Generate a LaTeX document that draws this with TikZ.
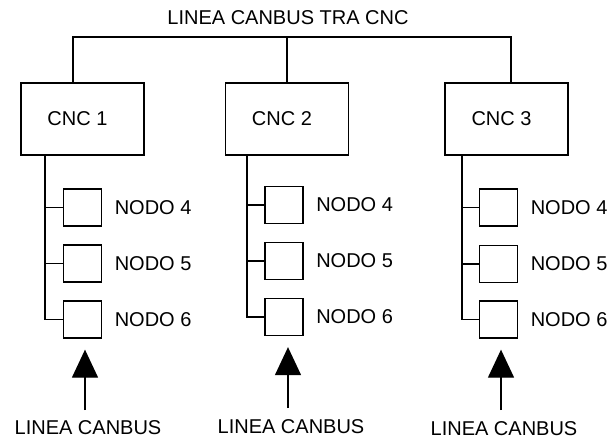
\documentclass[tikz,border=0pt]{standalone}
\usepackage{fontspec}
\setmainfont{Liberation Sans}
\usetikzlibrary{positioning,arrows.meta}

\begin{document}
\begin{tikzpicture}[x=1pt, y=-1pt, line width=1.3pt, font=\fontsize{20}{24}\selectfont,
    cncbox/.style={draw, minimum width=123pt, minimum height=72pt, inner sep=0pt},
    nodobox/.style={draw, minimum width=38pt, minimum height=37pt, inner sep=0pt},
    etichetta/.style={inner sep=0pt},
    freccia/.style={-{Triangle[width=26pt,length=28pt]}, shorten >=11pt}]
      \useasboundingbox (0,0) rectangle (610,439);
      % linea canbus tra i cnc
      \node[etichetta] (titolo) at (288,18) {LINEA CANBUS TRA CNC};
      \coordinate (b1) at (73,37);
      \coordinate (b3) at (511,37);
      \node[cncbox] (cnc1) at (82.5,119) {\hspace*{-10pt}CNC 1};
      \node[cncbox] (cnc2) at (287,119) {\hspace*{-10pt}CNC 2};
      \node[cncbox] (cnc3) at (506.5,119) {\hspace*{-10pt}CNC 3};
      \draw (cnc1.north -| b1) |- (b3) -- (cnc3.north -| b3);
      \draw (cnc2.north) -- (cnc2.north |- b1);
      % nodi del cnc 1
      \node[nodobox] (n14) at (82.5,207.5) {};
      \node[nodobox] (n15) at (82.5,263.5) {};
      \node[nodobox] (n16) at (82.5,319.5) {};
      \node[etichetta, right=12pt of n14] {NODO 4};
      \node[etichetta, right=12pt of n15] {NODO 5};
      \node[etichetta, right=12pt of n16] {NODO 6};
      \coordinate (t1) at (45,0);
      \draw (cnc1.south -| t1) |- (n16.west);
      \draw (t1 |- n14) -- (n14.west);
      \draw (t1 |- n15) -- (n15.west);
      % nodi del cnc 2
      \node[nodobox] (n24) at (284,205) {};
      \node[nodobox] (n25) at (284,261) {};
      \node[nodobox] (n26) at (284,317) {};
      \node[etichetta, right=12pt of n24] {NODO 4};
      \node[etichetta, right=12pt of n25] {NODO 5};
      \node[etichetta, right=12pt of n26] {NODO 6};
      \coordinate (t2) at (247,0);
      \draw (cnc2.south -| t2) |- (n26.west);
      \draw (t2 |- n24) -- (n24.west);
      \draw (t2 |- n25) -- (n25.west);
      % nodi del cnc 3
      \node[nodobox] (n34) at (498.5,207.5) {};
      \node[nodobox] (n35) at (498.5,264) {};
      \node[nodobox] (n36) at (498.5,319.5) {};
      \node[etichetta, right=12pt of n34] {NODO 4};
      \node[etichetta, right=12pt of n35] {NODO 5};
      \node[etichetta, right=12pt of n36] {NODO 6};
      \coordinate (t3) at (462,0);
      \draw (cnc3.south -| t3) |- (n36.west);
      \draw (t3 |- n34) -- (n34.west);
      \draw (t3 |- n35) -- (n35.west);
      % linee canbus in ingresso
      \node[etichetta] (linea1) at (88,428) {LINEA CANBUS};
      \node[etichetta] (linea2) at (291,427) {LINEA CANBUS};
      \node[etichetta] (linea3) at (504,428.5) {LINEA CANBUS};
      \coordinate (f1) at (85,410);
      \coordinate (f2) at (288,408);
      \coordinate (f3) at (501,410);
      \draw[freccia] (f1) -- (f1 |- n16.south);
      \draw[freccia] (f2) -- (f2 |- n26.south);
      \draw[freccia] (f3) -- (f3 |- n36.south);
    \end{tikzpicture}
\end{document}
